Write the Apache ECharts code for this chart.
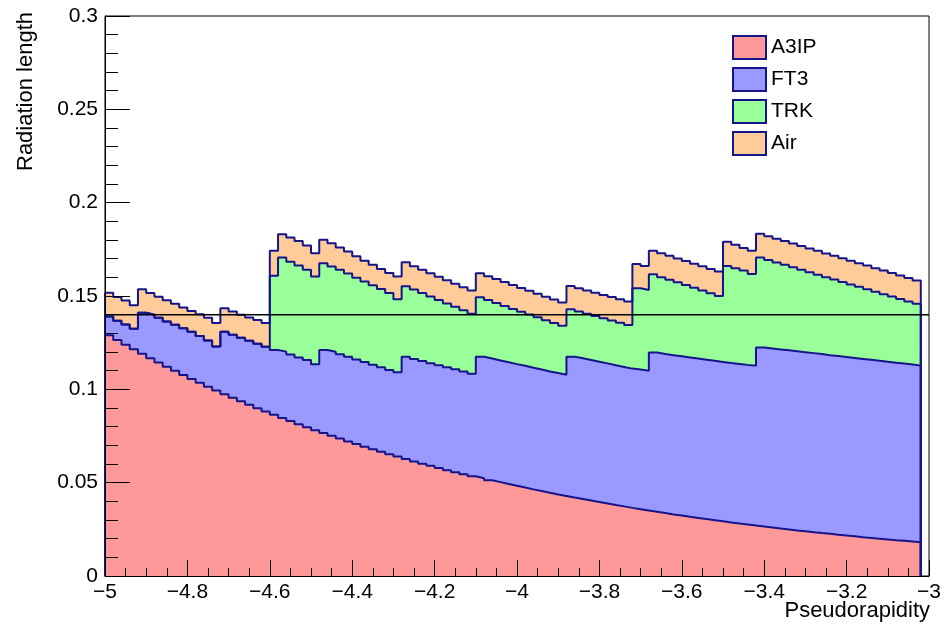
<!DOCTYPE html>
<html>
<head>
<meta charset="utf-8">
<script src="https://cdn.jsdelivr.net/npm/echarts@6/dist/echarts.min.js"></script>
<style>
  html, body { margin: 0; padding: 0; background: #fff; }
  #chart { width: 944px; height: 628px; }
</style>
</head>
<body>
<div id="chart"></div>
<script>
// bins of 0.02 in pseudorapidity, starting at -5 (last bin before -3 is empty)
const binStart = -5;
const binWidth = 0.02;

// stack heights per bin (each value is the top of that layer, as drawn by THStack)
const a3ipTop = [
  0.1290, 0.1264, 0.1239, 0.1215, 0.1190, 0.1167, 0.1144, 0.1121, 0.1099, 0.1077,
  0.1056, 0.1035, 0.1014, 0.0994, 0.0974, 0.0955, 0.0936, 0.0917, 0.0899, 0.0881,
  0.0864, 0.0847, 0.0830, 0.0813, 0.0797, 0.0781, 0.0766, 0.0751, 0.0736, 0.0721,
  0.0707, 0.0693, 0.0679, 0.0666, 0.0652, 0.0640, 0.0627, 0.0614, 0.0602, 0.0590,
  0.0579, 0.0567, 0.0556, 0.0545, 0.0534, 0.0524, 0.0513, 0.0503, 0.0493, 0.0483,
  0.0474, 0.0464, 0.0455, 0.0446, 0.0437, 0.0429, 0.0420, 0.0412, 0.0404, 0.0396,
  0.0388, 0.0380, 0.0373, 0.0365, 0.0358, 0.0351, 0.0344, 0.0337, 0.0330, 0.0324,
  0.0317, 0.0311, 0.0305, 0.0299, 0.0293, 0.0287, 0.0281, 0.0276, 0.0270, 0.0265,
  0.0260, 0.0254, 0.0249, 0.0244, 0.0240, 0.0235, 0.0230, 0.0226, 0.0221, 0.0217,
  0.0213, 0.0208, 0.0204, 0.0200, 0.0196, 0.0192, 0.0189, 0.0185, 0.0181,
];
const ft3Top = [
  0.1390, 0.1368, 0.1347, 0.1324, 0.1410, 0.1400, 0.1383, 0.1364, 0.1346, 0.1327,
  0.1308, 0.1286, 0.1262, 0.1230, 0.1308, 0.1292, 0.1276, 0.1260, 0.1244, 0.1228,
  0.1211, 0.1202, 0.1186, 0.1171, 0.1157, 0.1135, 0.1211, 0.1201, 0.1188, 0.1175,
  0.1160, 0.1146, 0.1132, 0.1118, 0.1104, 0.1091, 0.1174, 0.1163, 0.1152, 0.1140,
  0.1129, 0.1118, 0.1107, 0.1095, 0.1084, 0.1175, 0.1165, 0.1155, 0.1145, 0.1135,
  0.1126, 0.1116, 0.1106, 0.1096, 0.1087, 0.1078, 0.1175, 0.1166, 0.1157, 0.1148,
  0.1139, 0.1129, 0.1120, 0.1111, 0.1106, 0.1100, 0.1197, 0.1189, 0.1183, 0.1177,
  0.1171, 0.1165, 0.1159, 0.1153, 0.1147, 0.1141, 0.1136, 0.1131, 0.1127, 0.1224,
  0.1219, 0.1214, 0.1209, 0.1204, 0.1199, 0.1194, 0.1189, 0.1183, 0.1178, 0.1173,
  0.1168, 0.1163, 0.1158, 0.1153, 0.1148, 0.1143, 0.1138, 0.1133, 0.1127,
];
const trkTop = [
  0.1390, 0.1368, 0.1347, 0.1324, 0.1410, 0.1400, 0.1383, 0.1364, 0.1346, 0.1327,
  0.1308, 0.1286, 0.1262, 0.1230, 0.1308, 0.1292, 0.1276, 0.1260, 0.1244, 0.1228,
  0.1609, 0.1706, 0.1683, 0.1663, 0.1641, 0.1605, 0.1676, 0.1658, 0.1640, 0.1621,
  0.1598, 0.1578, 0.1557, 0.1537, 0.1516, 0.1482, 0.1552, 0.1535, 0.1516, 0.1497,
  0.1479, 0.1460, 0.1442, 0.1423, 0.1405, 0.1493, 0.1478, 0.1462, 0.1447, 0.1431,
  0.1416, 0.1401, 0.1386, 0.1370, 0.1355, 0.1340, 0.1429, 0.1417, 0.1405, 0.1393,
  0.1381, 0.1369, 0.1357, 0.1345, 0.1542, 0.1532, 0.1617, 0.1601, 0.1587, 0.1573,
  0.1559, 0.1544, 0.1530, 0.1515, 0.1500, 0.1661, 0.1649, 0.1636, 0.1618, 0.1706,
  0.1693, 0.1680, 0.1667, 0.1654, 0.1640, 0.1627, 0.1614, 0.1601, 0.1588, 0.1575,
  0.1562, 0.1549, 0.1536, 0.1523, 0.1510, 0.1497, 0.1484, 0.1471, 0.1458,
];
const airTop = [
  0.1518, 0.1495, 0.1476, 0.1450, 0.1536, 0.1516, 0.1496, 0.1477, 0.1458, 0.1439,
  0.1420, 0.1402, 0.1384, 0.1355, 0.1434, 0.1417, 0.1400, 0.1385, 0.1371, 0.1355,
  0.1742, 0.1831, 0.1813, 0.1795, 0.1771, 0.1729, 0.1801, 0.1782, 0.1760, 0.1738,
  0.1713, 0.1689, 0.1667, 0.1645, 0.1623, 0.1604, 0.1681, 0.1660, 0.1641, 0.1622,
  0.1603, 0.1585, 0.1566, 0.1547, 0.1529, 0.1622, 0.1606, 0.1591, 0.1575, 0.1559,
  0.1543, 0.1528, 0.1512, 0.1496, 0.1481, 0.1465, 0.1554, 0.1542, 0.1530, 0.1518,
  0.1506, 0.1494, 0.1482, 0.1470, 0.1672, 0.1661, 0.1743, 0.1729, 0.1715, 0.1701,
  0.1687, 0.1673, 0.1659, 0.1645, 0.1631, 0.1791, 0.1774, 0.1757, 0.1743, 0.1833,
  0.1820, 0.1807, 0.1794, 0.1781, 0.1768, 0.1755, 0.1742, 0.1728, 0.1715, 0.1702,
  0.1689, 0.1676, 0.1663, 0.1649, 0.1636, 0.1623, 0.1610, 0.1597, 0.1583,
];

const refLevel = 0.14;

const layerNames = ["A3IP", "FT3", "TRK", "Air"];
const layerFills = ["#ff9999", "#9999ff", "#99ff99", "#ffcc99"];
const outline = "#14148c";
const font = "Liberation Sans, Arial, Helvetica, sans-serif";

function binEdge(i) {
  return +(binStart + binWidth * i).toFixed(2);
}

// outline of a histogram: up at the first edge, flat per bin, down at the last edge
function histPoints(values) {
  const pts = [[binEdge(0), 0]];
  values.forEach((v, i) => pts.push([binEdge(i), v]));
  const last = binEdge(values.length);
  pts.push([last, values[values.length - 1]]);
  pts.push([last, 0]);
  return pts;
}

function histSeries(name, values, fill) {
  return {
    name,
    type: "line",
    step: "end",
    symbol: "none",
    silent: true,
    color: fill,
    lineStyle: { color: outline, width: 2 },
    areaStyle: { color: fill, opacity: 1 },
    data: histPoints(values),
  };
}

const minus = (v) => String(v).replace("-", "\u2212");

const chart = echarts.init(document.getElementById("chart"), null, { renderer: "canvas" });

chart.setOption({
  animation: false,
  backgroundColor: "#fff",
  grid: { left: 105, right: 14, top: 16, bottom: 52, show: true, borderColor: "#000", borderWidth: 1 },
  legend: {
    data: layerNames,
    orient: "vertical",
    left: 727,
    top: 30,
    icon: "rect",
    itemWidth: 33,
    itemHeight: 23,
    itemGap: 7,
    selectedMode: false,
    itemStyle: { borderColor: outline, borderWidth: 2 },
    textStyle: { color: "#000", fontSize: 21, fontFamily: font },
  },
  xAxis: {
    type: "value",
    min: -5,
    max: -3,
    interval: 0.2,
    z: 10,
    axisLine: { lineStyle: { color: "#000", width: 1 } },
    axisTick: { inside: true, length: 16, lineStyle: { color: "#000" } },
    minorTick: { show: true, splitNumber: 4, length: 8, lineStyle: { color: "#000" } },
    splitLine: { show: false },
    axisLabel: { color: "#000", fontSize: 21, fontFamily: font, margin: 6, formatter: minus },
  },
  yAxis: {
    type: "value",
    min: 0,
    max: 0.3,
    interval: 0.05,
    z: 10,
    axisLine: { lineStyle: { color: "#000", width: 1 } },
    axisTick: { inside: true, length: 25, lineStyle: { color: "#000" } },
    minorTick: { show: true, splitNumber: 5, length: 13, lineStyle: { color: "#000" } },
    splitLine: { show: false },
    axisLabel: { color: "#000", fontSize: 21, fontFamily: font, margin: 7 },
  },
  graphic: [
    {
      type: "text",
      x: 930,
      y: 611,
      style: { text: "Pseudorapidity", fill: "#000", fontSize: 22, fontFamily: font, textAlign: "right", textVerticalAlign: "middle" },
    },
    {
      type: "text",
      x: 26,
      y: 12,
      rotation: Math.PI / 2,
      style: { text: "Radiation length", fill: "#000", fontSize: 22, fontFamily: font, textAlign: "right", textVerticalAlign: "middle" },
    },
  ],
  // drawn like THStack: the full stack first, then each lower layer on top
  series: [
    histSeries("Air", airTop, layerFills[3]),
    histSeries("TRK", trkTop, layerFills[2]),
    histSeries("FT3", ft3Top, layerFills[1]),
    histSeries("A3IP", a3ipTop, layerFills[0]),
    {
      name: "level",
      type: "line",
      symbol: "none",
      silent: true,
      z: 5,
      lineStyle: { color: "#000", width: 1.5 },
      data: [[-5, refLevel], [-3, refLevel]],
    },
  ],
});
</script>
</body>
</html>
